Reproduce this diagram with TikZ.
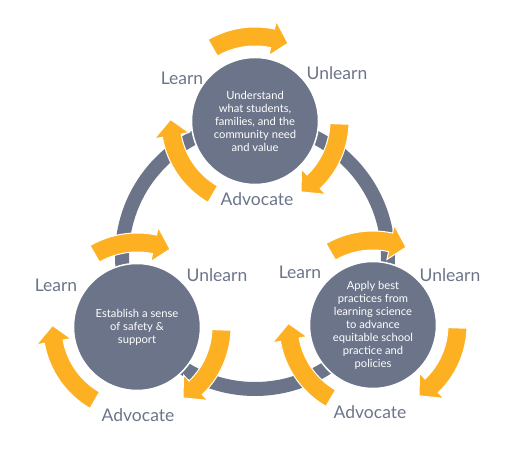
\documentclass[tikz,border=0pt]{standalone}
\usepackage{fontspec}
\setmainfont{Lato}
\usetikzlibrary{calc}

\begin{document}
\begin{tikzpicture}[x=1pt,y=1pt,
  bubble/.style={circle,fill=slate,draw=white,line width=1.5pt,minimum size=127pt,inner sep=0pt,
    text=white,align=center,font=\fontsize{11.2}{13}\selectfont},
  cyclearrow/.style={fill=amber,draw=white,line width=1pt},
  steplabel/.style={text=slate,font=\fontsize{17.5}{19}\selectfont}]
\definecolor{slate}{HTML}{6B7489}
\definecolor{amber}{HTML}{FDB022}
\useasboundingbox (0,0) rectangle (511,454);
\coordinate (hub) at (255,198);
\draw[slate,line width=14pt] (hub) circle[radius=133];
\node[bubble] (top) at (255,333) {Understand\\what students,\\families, and the\\community need\\and value};
\node[bubble] (bl) at (137,127) {Establish a sense\\of safety \&\\support};
\node[bubble] (br) at (373,129) {Apply best\\practices from\\learning science\\to advance\\equitable school\\practice and\\policies};
% learn -> unlearn -> advocate, clockwise round each circle
\foreach \c in {top,bl,br}
  \foreach \a/\b in {120/67,-2/-57,240/179}
  { \filldraw[cyclearrow] ($(\c)+(\a:75)$) arc[start angle=\a,end angle=\b+11,radius=75]
      -- ($(\c)+(\b+11:67)$) -- ($(\c)+(\b:84.5)$) -- ($(\c)+(\b+11:102)$)
      -- ($(\c)+(\b+11:94)$) arc[start angle=\b+11,end angle=\a,radius=94] -- cycle;}
\foreach \c/\lx/\ly/\ux/\uy/\ax/\ay in {top/-73/43/82/48/2/-78,bl/-81/42/80/52/1/-88,br/-73/53/77/50/-3/-87}
  { \node[steplabel] (\c-learn) at ($(\c)+(\lx,\ly)$) {Learn};
    \node[steplabel] (\c-unlearn) at ($(\c)+(\ux,\uy)$) {Unlearn};
    \node[steplabel] (\c-advocate) at ($(\c)+(\ax,\ay)$) {Advocate};}
\end{tikzpicture}
\end{document}
